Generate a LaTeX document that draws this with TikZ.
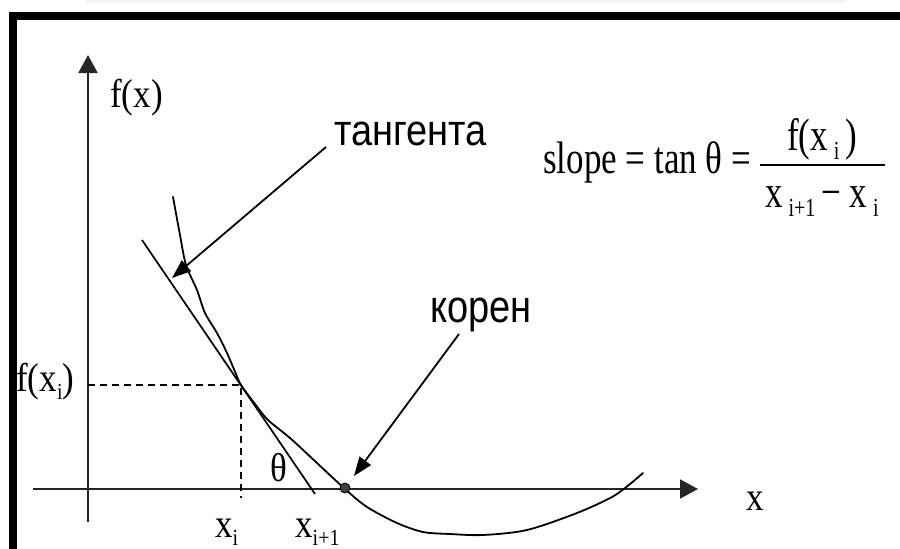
\documentclass[tikz,border=0pt]{standalone}
\usepackage{fontspec}
\usepackage{graphicx}
\setmainfont{Liberation Serif}
\newfontfamily\cyrfont{Liberation Sans}
\usetikzlibrary{arrows.meta}
\newcommand\sbs[1]{\raisebox{-0.2em}{\fontsize{20}{20}\selectfont #1}}
\newcommand\vst[2]{\scalebox{1}[#1]{#2}}
\begin{document}
\begin{tikzpicture}[x=1pt,y=-1pt,
  lbl/.style={inner sep=0pt, anchor=base west, font=\fontsize{35}{40}\selectfont},
  cyrl/.style={inner sep=0pt, anchor=base west, font=\cyrfont\fontsize{38}{44}\selectfont},
  axisline/.style={line width=2pt, draw=black!85, -{Triangle[length=18pt,width=19pt]}},
  ptr/.style={line width=1.8pt, -{Triangle[length=19pt,width=14pt]}},
  curvestyle/.style={line width=1.8pt, line join=round, line cap=round},
  guide/.style={line width=1.6pt, dash pattern=on 7pt off 5pt},
]
\useasboundingbox (0,0) rectangle (900,549);
% page frame
\fill[black!4] (85,0) rectangle (845,3);
\fill[black] (9,12) rectangle (900,19.5);
\fill[black] (9,12) rectangle (17,549);

% axes
\coordinate (ybot) at (88,522);
\coordinate (ytop) at (88,55);
\coordinate (xleft) at (33,489);
\coordinate (xright) at (698,489);
\draw[axisline] (ybot) -- (ytop);
\draw[axisline] (xleft) -- (xright);

% key points
\coordinate (P) at (241,385);
\coordinate (yP) at (88,385);
\coordinate (xP) at (241,498);
\coordinate (tA) at (142,240);
\coordinate (tB) at (315,494);

% dashed guides
\draw[guide] (yP) -- (P) -- (xP);

% tangent
\draw[line width=1.7pt] (tA) -- (tB);

% curve
\draw[curvestyle] plot[smooth, tension=0.5] coordinates {
 (173,197) (180,235) (186,265) (197,290) (205,313) (217,333) (227,353) (236,374)
 (241,385) (255,404) (268,420) (290,438) (317,463) (345,489) (367,507) (397,523)
 (423,532) (450,534) (483,535) (527,530) (577,513) (612,497) (630,484) (643,473)};

% root
\node[circle, fill=black!75, draw=black, line width=0.8pt, inner sep=0pt, minimum size=10pt] (root) at (345,488) {};

% labels
\node[lbl] (fx) at (110,107) {\vst{1.15}{f(x)}};
\node[lbl] (fxi) at (16,391) {\vst{1.15}{f(x\sbs{i})}};
\node[lbl] (xi) at (215,537) {\vst{1.15}{x\sbs{i}}};
\node[lbl] (xi1) at (295,537) {\vst{1.15}{x\sbs{i+1}}};
\node[lbl] (th) at (270,481) {\vst{1.15}{θ}};
\node[lbl] (xl) at (746,510) {\vst{1.15}{x}};

\node[cyrl] (tang) at (334,145) {\vst{1.15}{тангента}};
\node[cyrl] (koren) at (430,322) {\vst{1.2}{корен}};

\coordinate (tangstart) at (326,147);
\coordinate (tangtip) at (172,278);
\draw[ptr] (tangstart) -- (tangtip);
\coordinate (korstart) at (459,334);
\coordinate (kortip) at (354,476);
\draw[ptr] (korstart) -- (kortip);

% formula
\node[lbl] (slope) at (543,173) {\vst{1.3}{slope = tan θ =}};
\coordinate (barL) at (760,165);
\coordinate (barR) at (885,165);
\draw[line width=1.8pt] (barL) -- (barR);
\node[lbl] (num) at (787,150) {\vst{1.3}{f(x\,\sbs{i}\,)}};
\node[lbl] (den) at (765,207) {\vst{1.3}{x\,\sbs{i+1}\,− x\,\sbs{i}}};
\end{tikzpicture}
\end{document}
